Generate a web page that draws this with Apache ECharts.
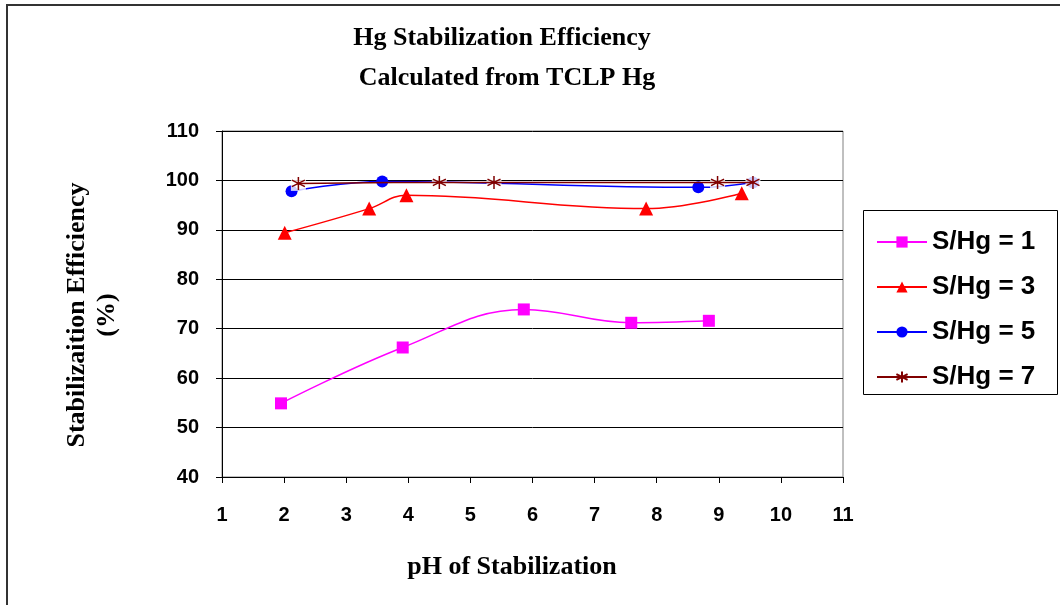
<!DOCTYPE html>
<html>
<head>
<meta charset="utf-8">
<script src="https://cdn.jsdelivr.net/npm/echarts@6/dist/echarts.min.js"></script>
<style>
  html, body { margin: 0; padding: 0; background: #fff; }
  #chart { width: 1060px; height: 605px; }
</style>
</head>
<body>
<div id="chart"></div>
<script>
// values (pH, efficiency %)
const phS1 = [1.95, 3.91, 5.86, 7.59, 8.84];
const effS1 = [54.9, 66.2, 73.9, 71.2, 71.6];
const phS3 = [2.01, 3.37, 3.97, 7.83, 9.37];
const effS3 = [89.4, 94.3, 97.0, 94.3, 97.4];
const phS5 = [2.12, 3.58, 8.67, 9.55];
const effS5 = [97.8, 99.8, 98.6, 99.6];
const phS7 = [2.23, 4.50, 5.38, 8.98, 9.55];
const effS7 = [99.4, 99.6, 99.6, 99.6, 99.6];
const seriesNames = ['S/Hg = 1', 'S/Hg = 3', 'S/Hg = 5', 'S/Hg = 7'];
const xRange = [1, 11];
const yRange = [40, 110];

const pairs = (xs, ys) => xs.map((x, i) => [x, ys[i]]);

const serif = '"Liberation Serif", "Times New Roman", serif';
const sans = '"Liberation Sans", Arial, sans-serif';
const asterisk = 'path://M0,-1L0,1M-0.87,-0.5L0.87,0.5M-0.87,0.5L0.87,-0.5';

const chart = echarts.init(document.getElementById('chart'));

const lineSeries = (name, data, color, symbol, size, z) => ({
  name: name,
  type: 'line',
  data: data,
  smooth: 0.4,
  symbol: symbol,
  symbolSize: size,
  z: z,
  lineStyle: { color: color, width: 1.5 },
  itemStyle: { color: color, borderColor: color, borderWidth: symbol === asterisk ? 1.5 : 0 }
});

chart.setOption({
  animation: false,
  title: [
    {
      text: 'Hg Stabilization Efficiency',
      left: 497, top: 20, textAlign: 'center',
      textStyle: { fontFamily: serif, fontSize: 26, fontWeight: 'bold', color: '#000' }
    },
    {
      text: 'Calculated from TCLP Hg',
      left: 502, top: 60, textAlign: 'center',
      textStyle: { fontFamily: serif, fontSize: 26, fontWeight: 'bold', color: '#000' }
    }
  ],
  grid: { left: 222, right: 217, top: 131, bottom: 128, show: true, borderColor: '#808080', borderWidth: 1 },
  xAxis: {
    type: 'value',
    min: xRange[0], max: xRange[1], interval: 1,
    axisLine: { lineStyle: { color: '#000', width: 1 } },
    axisTick: { show: true, inside: false, length: 6, lineStyle: { color: '#000' } },
    axisLabel: { margin: 28, fontFamily: sans, fontSize: 20, fontWeight: 'bold', color: '#000' },
    splitLine: { show: false }
  },
  yAxis: {
    type: 'value',
    min: yRange[0], max: yRange[1], interval: 10,
    axisLine: { show: true, lineStyle: { color: '#000', width: 1 } },
    axisTick: { show: true, inside: false, length: 6, lineStyle: { color: '#000' } },
    axisLabel: { margin: 23, fontFamily: sans, fontSize: 20, fontWeight: 'bold', color: '#000' },
    splitLine: { show: true, lineStyle: { color: '#000', width: 1 } }
  },
  legend: {
    orient: 'vertical',
    left: 871, top: 224,
    itemWidth: 50, itemHeight: 14, itemGap: 19,
    data: seriesNames,
    textStyle: { fontFamily: sans, fontSize: 26, fontWeight: 'bold', color: '#000' }
  },
  graphic: [
    { type: 'rect', shape: { x: 7, y: 5, width: 1100, height: 700 },
      style: { fill: 'none', stroke: '#333', lineWidth: 2 }, silent: true },
    { type: 'rect', shape: { x: 863.5, y: 210.5, width: 194, height: 184 },
      style: { fill: 'none', stroke: '#000', lineWidth: 1 }, silent: true },
    { type: 'text', x: 77, y: 315, rotation: Math.PI / 2,
      style: { text: 'Stabilizaition Efficiency', font: 'bold 26px ' + serif, fill: '#000', textAlign: 'center', textVerticalAlign: 'middle' } },
    { type: 'text', x: 107, y: 315, rotation: Math.PI / 2,
      style: { text: '(%)', font: 'bold 26px ' + serif, fill: '#000', textAlign: 'center', textVerticalAlign: 'middle' } },
    { type: 'text', x: 512, y: 567,
      style: { text: 'pH of Stabilization', font: 'bold 26px ' + serif, fill: '#000', textAlign: 'center', textVerticalAlign: 'middle' } }
  ],
  series: [
    lineSeries(seriesNames[0], pairs(phS1, effS1), '#FF00FF', 'rect', 12, 2),
    lineSeries(seriesNames[1], pairs(phS3, effS3), '#FF0000', 'triangle', 14, 3),
    lineSeries(seriesNames[2], pairs(phS5, effS5), '#0000FF', 'circle', 12, 4),
    // white backing behind the star markers, as in the original
    {
      name: 'backing', type: 'scatter', data: pairs(phS7, effS7),
      symbol: 'rect', symbolSize: 15, z: 5, silent: true,
      itemStyle: { color: '#fff' }
    },
    lineSeries(seriesNames[3], pairs(phS7, effS7), '#800000', asterisk, 13, 6)
  ]
});
</script>
</body>
</html>
